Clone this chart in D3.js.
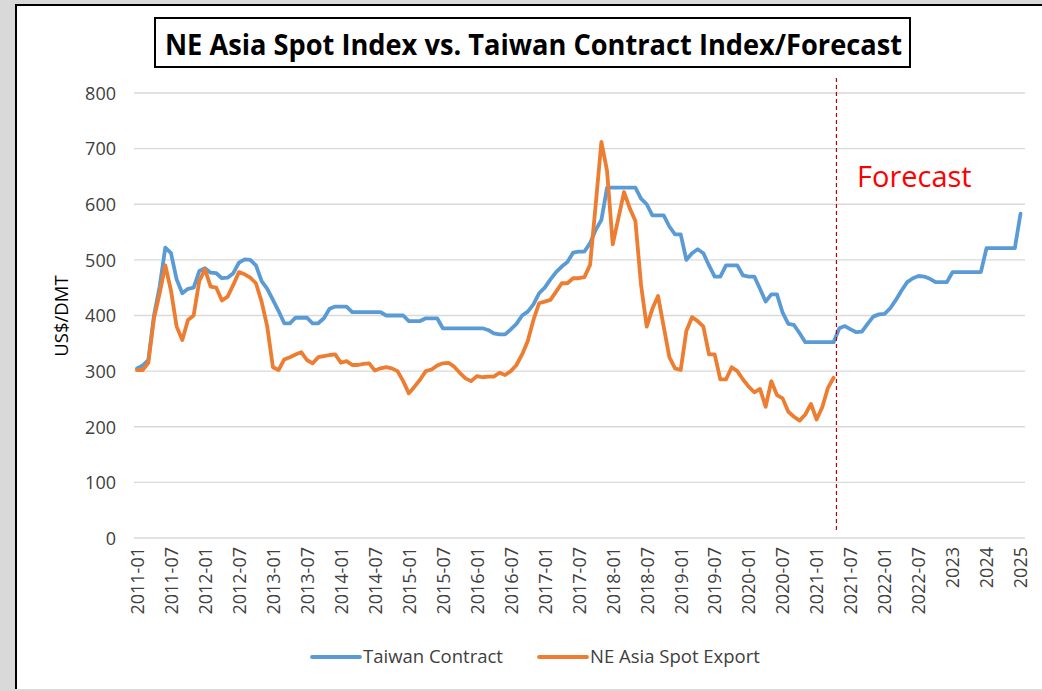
<!DOCTYPE html>
<html><head><meta charset="utf-8">
<script src="https://cdn.jsdelivr.net/npm/d3@7"></script>
<style>
html,body{margin:0;padding:0;background:#d9d9d9;}
svg{display:block;}
</style></head>
<body>
<svg id="chart" width="1042" height="691"></svg>
<script>
const tickLabels = ["2011-01","2011-07","2012-01","2012-07","2013-01","2013-07","2014-01","2014-07","2015-01","2015-07","2016-01","2016-07","2017-01","2017-07","2018-01","2018-07","2019-01","2019-07","2020-01","2020-07","2021-01","2021-07","2022-01","2022-07","2023","2024","2025"];
const yTicks = [0,100,200,300,400,500,600,700,800];
const seriesNames = ["Taiwan Contract","NE Asia Spot Export"];
const taiwanContract = [
305,310,320,400,452,522,512,465,440,448,450,480,
485,477,476,467,468,476,495,501,500,490,462,448,
428,408,386,386,396,396,396,386,386,395,412,416,
416,416,406,406,406,406,406,406,400,400,400,400,
390,390,390,395,395,395,377,377,377,377,377,377,
377,377,374,368,366,366,375,385,400,407,420,440,
450,465,478,488,496,513,515,515,530,554,572,630,
630,630,630,630,630,610,600,580,580,580,560,546,
546,500,512,519,512,490,470,470,490,490,490,472,
470,470,448,425,438,438,405,385,383,368,352,352,
352,352,352,352,377,381,375,370,371,385,398,402,
403,413,428,445,460,467,471,470,466,460,460,460,
478,478,478,478,478,478,521,521,521,521,521,521,
583];
const neAsiaSpot = [
302,302,315,395,440,490,445,380,356,392,400,462,
483,452,450,427,434,455,478,474,468,458,425,380,
307,302,321,325,330,334,320,314,325,327,329,330,
315,318,311,311,313,314,301,305,307,305,300,282,
260,272,285,300,303,310,314,315,308,297,287,282,
291,289,290,290,297,293,300,311,330,354,392,422,
425,428,443,458,458,467,467,469,491,600,712,660,
528,575,622,593,570,455,380,412,435,380,325,305,
302,372,397,390,380,330,330,285,285,307,300,285,
272,262,268,236,282,257,251,227,218,211,222,241,
213,235,270,288];
const forecastStart = 123.5;
const forecastLabel = "Forecast";
const titleText = "NE Asia Spot Index vs. Taiwan Contract Index/Forecast";
const yTitle = "US$/DMT";

const svg = d3.select("#chart");
const FONT = "'Open Sans', 'Noto Sans', sans-serif";

// chart frame (white area with black left/top border)
svg.append("rect").attr("x",15).attr("y",4).attr("width",1027).attr("height",685).attr("fill","#fff");
svg.append("path").attr("d","M16,689V5H1042").attr("fill","none").attr("stroke","#000").attr("stroke-width",2);

const nCats = taiwanContract.length;
const x = d3.scaleLinear().domain([0, nCats-1]).range([137, 1020.5]);
const y = d3.scaleLinear().domain([0, 800]).range([538, 93]);

// gridlines
svg.append("g").selectAll("line").data(yTicks).join("line")
  .attr("x1",134).attr("x2",1025)
  .attr("y1",d=>y(d)).attr("y2",d=>y(d))
  .attr("stroke","#d9d9d9").attr("stroke-width",1.3);

// y axis
const yAxis = svg.append("g").attr("transform","translate(120,0)")
  .call(d3.axisLeft(y).tickValues(yTicks).tickSize(0).tickPadding(4));
yAxis.select(".domain").remove();
yAxis.selectAll("text").attr("font-family",FONT).attr("font-size",18).attr("fill","#404040").attr("dy","0.35em");

// x axis
const tickIdx = tickLabels.map((d,i)=>i*6);
const xAxis = svg.append("g").attr("transform","translate(0,538)")
  .call(d3.axisBottom(x).tickValues(tickIdx).tickFormat((d,i)=>tickLabels[i]).tickSize(0));
xAxis.select(".domain").remove();
xAxis.selectAll("text")
  .attr("font-family",FONT).attr("font-size",18).attr("fill","#404040")
  .attr("transform","rotate(-90)")
  .attr("text-anchor","end")
  .attr("x",-9).attr("y",0).attr("dy","0.35em");

// lines
const line = d3.line().x((d,i)=>x(i)).y(d=>y(d));
svg.append("path").datum(taiwanContract).attr("d",line)
  .attr("fill","none").attr("stroke","#5b9bd5").attr("stroke-width",3.8)
  .attr("stroke-linejoin","round").attr("stroke-linecap","round");
svg.append("path").datum(neAsiaSpot).attr("d",line)
  .attr("fill","none").attr("stroke","#ed7d31").attr("stroke-width",3.8)
  .attr("stroke-linejoin","round").attr("stroke-linecap","round");

// forecast divider
svg.append("line").attr("x1",x(forecastStart)).attr("x2",x(forecastStart))
  .attr("y1",78).attr("y2",530)
  .attr("stroke","#c00000").attr("stroke-width",1.2).attr("stroke-dasharray","4,3");
svg.append("text").attr("x",857).attr("y",187).text(forecastLabel)
  .attr("font-family",FONT).attr("font-size",29).attr("fill","#ff0000");

// title
svg.append("rect").attr("x",155).attr("y",18).attr("width",755).attr("height",49)
  .attr("fill","#fff").attr("stroke","#000").attr("stroke-width",2);
svg.append("text").attr("x",165).attr("y",55).text(titleText)
  .attr("font-family",FONT).attr("font-weight","bold").attr("font-size",28)
  .attr("textLength",737).attr("lengthAdjust","spacingAndGlyphs").attr("fill","#000");

// y title
svg.append("text").attr("transform","translate(68,316) rotate(-90)")
  .attr("text-anchor","middle").text(yTitle)
  .attr("font-family",FONT).attr("font-size",18.5).attr("fill","#000");

// legend
const legend = [
  {name: seriesNames[0], color:"#5b9bd5", x1:312},
  {name: seriesNames[1], color:"#ed7d31", x1:539}
];
const lg = svg.append("g");
legend.forEach(l=>{
  lg.append("line").attr("x1",l.x1).attr("x2",l.x1+48).attr("y1",657).attr("y2",657)
    .attr("stroke",l.color).attr("stroke-width",3.8).attr("stroke-linecap","round");
  lg.append("text").attr("x",l.x1+51).attr("y",657).attr("dy","0.35em").text(l.name)
    .attr("font-family",FONT).attr("font-size",18.5).attr("fill","#404040");
});
</script>
</body></html>
